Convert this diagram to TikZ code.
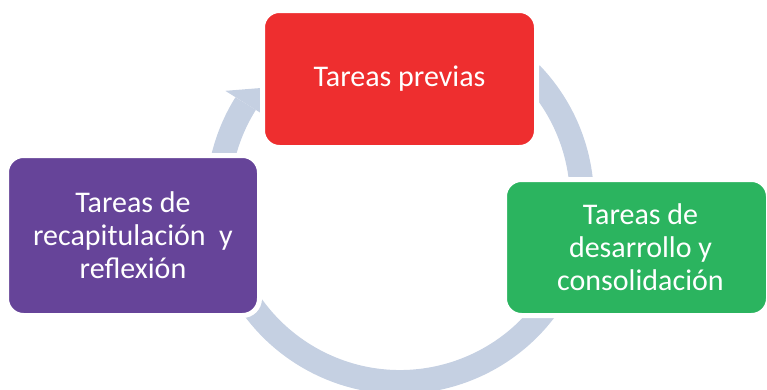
\documentclass[tikz,border=0pt]{standalone}
\usepackage{fontspec}
\setmainfont{Carlito}
\definecolor{ringc}{RGB}{197,208,226}
\definecolor{redc}{RGB}{238,46,47}
\definecolor{purc}{RGB}{102,68,153}
\definecolor{grnc}{RGB}{43,180,95}
\tikzset{
  boxst/.style={rounded corners=17pt, draw=white, line width=5pt, text=white,
    align=center, inner sep=0pt, font=\fontsize{30}{33}\selectfont},
  ringst/.style={draw=ringc, line width=24pt, line cap=butt},
}
\begin{document}
\begin{tikzpicture}[x=1pt,y=-1pt]
\useasboundingbox (0,0) rectangle (767,389);
\coordinate (c) at (400,200);
% ring segments
\draw[ringst] ([shift={(c)}]180:182) arc[start angle=180, end angle=212, radius=182];
\fill[ringc] ([shift={(c)}]212:206) -- ([shift={(c)}]222:169) -- ([shift={(c)}]212:158) -- cycle;
\draw[ringst] ([shift={(c)}]316:182) arc[start angle=316, end angle=368, radius=182];
\draw[ringst] ([shift={(c)}]25:182) arc[start angle=25, end angle=165, radius=182];
% boxes
\node[boxst, fill=redc, minimum width=274pt, minimum height=137pt] (prev) at (399.5,79) {Tareas previas};
\node[boxst, fill=grnc, minimum width=264pt, minimum height=136pt] (des) at (636.5,247.5) {\hspace*{8pt}Tareas de\\\hspace*{8pt}desarrollo y\\\hspace*{8pt}consolidación};
\node[boxst, fill=purc, minimum width=253pt, minimum height=160pt] (rec) at (133,235.5) {Tareas de\\recapitulación~ y\\reflexión};
\end{tikzpicture}
\end{document}
